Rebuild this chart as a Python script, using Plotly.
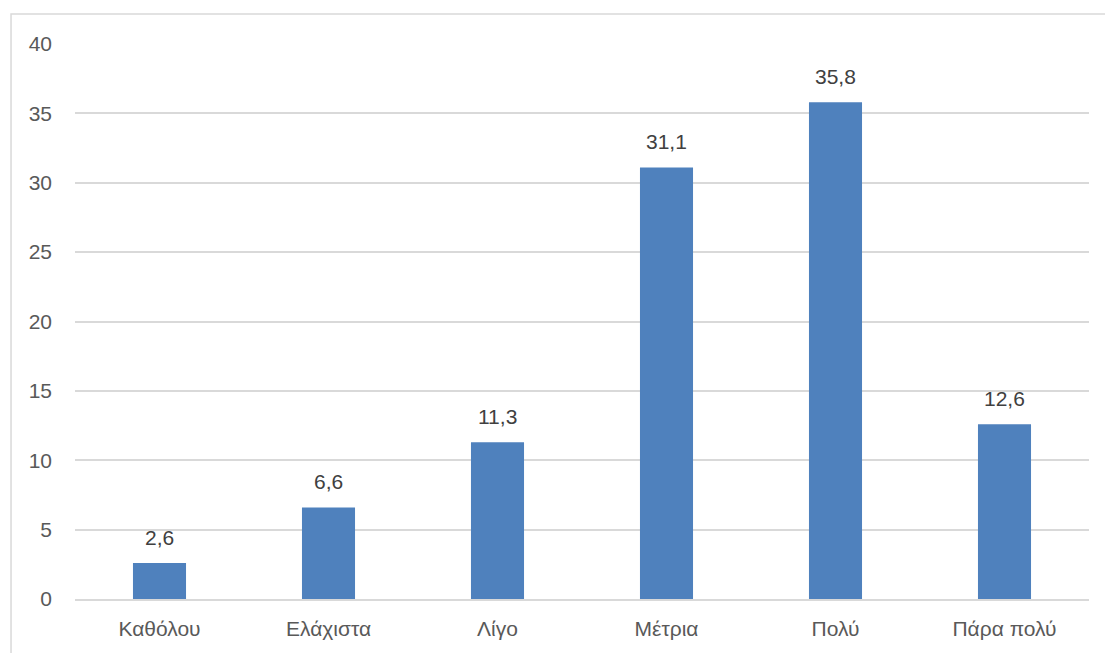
import plotly.graph_objects as go

categories = ["Καθόλου", "Ελάχιστα", "Λίγο", "Μέτρια", "Πολύ", "Πάρα πολύ"]
values = [2.6, 6.6, 11.3, 31.1, 35.8, 12.6]
y_ticks = [0, 5, 10, 15, 20, 25, 30, 35, 40]

FONT = "Liberation Sans, Arial, sans-serif"
TEXT = "#595959"
GRID = "#d9d9d9"

fig = go.Figure(
    go.Bar(
        x=categories,
        y=values,
        marker=dict(color="#4f81bd", line=dict(width=0)),
        hoverinfo="skip",
    )
)

# value labels above each bar, comma as decimal separator
for cat, v in zip(categories, values):
    fig.add_annotation(
        x=cat,
        y=v,
        text=f"{v:.1f}".replace(".", ","),
        showarrow=False,
        yanchor="bottom",
        yshift=12,
        font=dict(family=FONT, size=21, color="#404040"),
    )

fig.update_layout(
    width=1105,
    height=653,
    margin=dict(l=75, r=16, t=44, b=54),
    paper_bgcolor="white",
    plot_bgcolor="white",
    bargap=0.686,
    showlegend=False,
    xaxis=dict(
        showgrid=False,
        showline=True,
        linecolor=GRID,
        linewidth=1.5,
        ticks="",
        tickfont=dict(family=FONT, size=21, color=TEXT),
        ticklabelstandoff=10,
    ),
    yaxis=dict(
        range=[0, 40],
        tickvals=y_ticks,
        showgrid=True,
        gridcolor=GRID,
        gridwidth=1.5,
        zeroline=False,
        showline=False,
        ticks="",
        tickfont=dict(family=FONT, size=21, color=TEXT),
        ticklabelstandoff=22,
    ),
    shapes=[
        dict(
            type="rect",
            xref="paper",
            yref="paper",
            x0=-0.0631,
            x1=1.2,
            y0=-0.3,
            y1=1.054,
            line=dict(color=GRID, width=1.5),
            fillcolor="rgba(0,0,0,0)",
            layer="below",
        )
    ],
)

fig.write_html("out.html")
